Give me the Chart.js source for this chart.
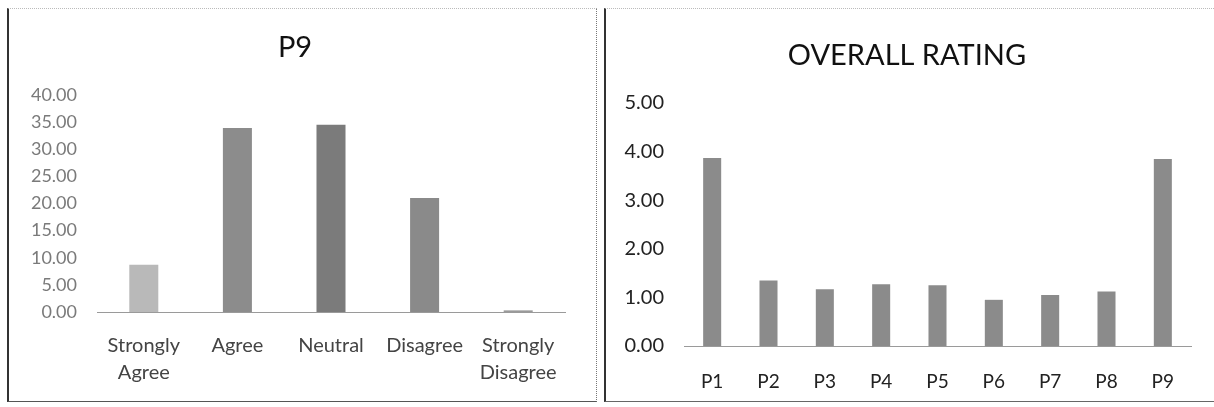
<!DOCTYPE html>
<html>
<head>
<meta charset="utf-8">
<script src="https://cdn.jsdelivr.net/npm/chart.js@4.4.1/dist/chart.umd.min.js"></script>
<style>
  html, body { margin: 0; padding: 0; background: #fff; }
  body { width: 1214px; height: 407px; position: relative; overflow: hidden; }
  .box { position: absolute; box-sizing: border-box; }
  #box1 { left: 7px; top: 8px; width: 590px; height: 394px;
          border-left: 2px solid #333; border-top: 1px dotted #bbb;
          border-right: 1px dotted #777; border-bottom: 1px solid #555; }
  #box2 { left: 604px; top: 8px; width: 620px; height: 394px;
          border-left: 2px solid #333; border-top: 1px dotted #bbb;
          border-bottom: 1px solid #666; }
  #wrap1 { position: absolute; left: 8px; top: 0; width: 588px; height: 407px; }
  #wrap2 { position: absolute; left: 605px; top: 0; width: 609px; height: 407px; }
</style>
</head>
<body>
<div class="box" id="box1"></div>
<div class="box" id="box2"></div>
<div id="wrap1"><canvas id="chartP9"></canvas></div>
<div id="wrap2"><canvas id="chartOverall"></canvas></div>
<script>
// P9 responses (percent)
const p9Labels = [['Strongly', 'Agree'], 'Agree', 'Neutral', 'Disagree', ['Strongly', 'Disagree']];
const p9Values = [8.7, 33.9, 34.5, 21.0, 0.3];
const p9Colors = ['#b9b9b9', '#8c8c8c', '#7b7b7b', '#8a8a8a', '#9a9a9a'];
const p9Ticks = [0, 5, 10, 15, 20, 25, 30, 35, 40];

// overall rating per question
const overallLabels = ['P1', 'P2', 'P3', 'P4', 'P5', 'P6', 'P7', 'P8', 'P9'];
const overallValues = [3.87, 1.35, 1.17, 1.27, 1.25, 0.95, 1.05, 1.12, 3.85];
const overallTicks = [0, 1, 2, 3, 4, 5];

Chart.defaults.font.family = 'Lato, "Open Sans", sans-serif';
Chart.defaults.animation = false;

new Chart(document.getElementById('chartP9'), {
    type: 'bar',
    data: {
        labels: p9Labels,
        datasets: [{
            data: p9Values,
            backgroundColor: p9Colors,
            categoryPercentage: 1,
            barPercentage: 0.31
        }]
    },
    options: {
        responsive: true,
        maintainAspectRatio: false,
        layout: { padding: { left: 17, right: 31, top: 0, bottom: 15 } },
        plugins: {
            legend: { display: false },
            tooltip: { enabled: false },
            title: {
                display: true,
                text: 'P9',
                color: '#111',
                font: { size: 29, weight: 'normal' },
                padding: { top: 30.6, bottom: 29.6 }
            }
        },
        scales: {
            x: {
                grid: { display: false, drawTicks: false },
                border: { display: true, color: '#9a9a9a', dash: [2, 2] },
                ticks: {
                    color: '#444', padding: 20, maxRotation: 0, autoSkip: false,
                    font: { size: 20, lineHeight: 1.35 }
                },
                afterFit: function (s) { s.height = 80; }
            },
            y: {
                min: 0, max: 40,
                grid: { display: false, drawTicks: false },
                border: { display: false },
                afterBuildTicks: function (s) { s.ticks = p9Ticks.map(v => ({ value: v })); },
                ticks: {
                    color: '#7a7a7a', padding: 20,
                    font: { size: 18 },
                    callback: v => Number(v).toFixed(2)
                },
                afterFit: function (s) { s.width = 72; }
            }
        }
    }
});

new Chart(document.getElementById('chartOverall'), {
    type: 'bar',
    data: {
        labels: overallLabels,
        datasets: [{
            data: overallValues,
            backgroundColor: '#8b8b8b',
            categoryPercentage: 1,
            barPercentage: 0.32
        }]
    },
    options: {
        responsive: true,
        maintainAspectRatio: false,
        layout: { padding: { left: 18, right: 23, top: 0, bottom: 15 } },
        plugins: {
            legend: { display: false },
            tooltip: { enabled: false },
            title: {
                display: true,
                text: 'OVERALL RATING',
                color: '#111',
                font: { size: 29, weight: 'normal' },
                padding: { top: 38.6, bottom: 29.6 }
            }
        },
        scales: {
            x: {
                grid: { display: false, drawTicks: false },
                border: { display: true, color: '#9a9a9a', dash: [2, 2] },
                ticks: {
                    color: '#222', padding: 24.6, maxRotation: 0, autoSkip: false,
                    font: { size: 19 }
                },
                afterFit: function (s) { s.height = 46; }
            },
            y: {
                min: 0, max: 5,
                grid: { display: false, drawTicks: false },
                border: { display: false },
                afterBuildTicks: function (s) { s.ticks = overallTicks.map(v => ({ value: v })); },
                ticks: {
                    color: '#222', padding: 20,
                    font: { size: 20 },
                    callback: v => Number(v).toFixed(2)
                },
                afterFit: function (s) { s.width = 61; }
            }
        }
    }
});
</script>
</body>
</html>
